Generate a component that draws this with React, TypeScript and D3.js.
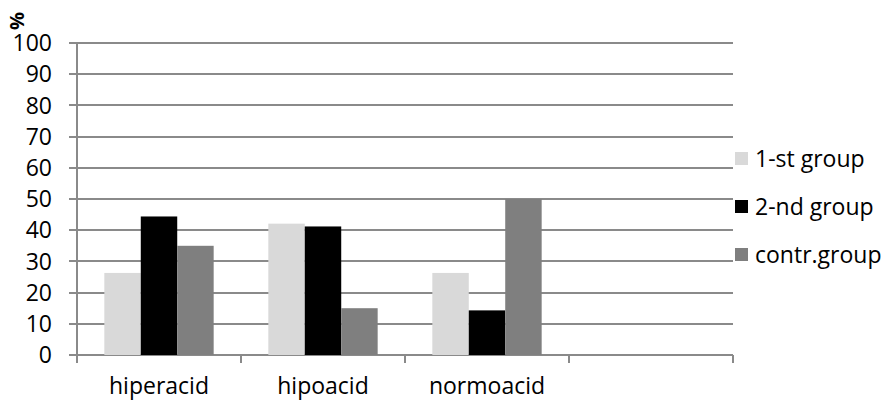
import React from "react";
import * as d3 from "d3";

// Acidity type of gastric secretion, share of patients per group (%)
const categories = ["hiperacid", "hipoacid", "normoacid", ""];
const seriesNames = ["1-st group", "2-nd group", "contr.group"];
const firstGroup = [26.3, 42.1, 26.3];
const secondGroup = [44.4, 41.2, 14.3];
const controlGroup = [35, 15, 50];
const seriesColors = ["#d9d9d9", "#000000", "#7f7f7f"];
const yTicks = [0, 10, 20, 30, 40, 50, 60, 70, 80, 90, 100];

const W = 884;
const H = 402;
const left = 77;
const right = 733;
const top = 43;
const bottom = 355;
const font = "'Open Sans', 'Noto Sans', sans-serif";
const gridColor = "#8a8a8a";

export default function App() {
  const values = [firstGroup, secondGroup, controlGroup];
  const x = d3.scaleBand<string>().domain(categories).range([left, right]).paddingInner(0).paddingOuter(0);
  const xs = d3
    .scaleBand<number>()
    .domain([0, 1, 2])
    .range([0, x.bandwidth()])
    .paddingInner(0)
    .paddingOuter(0.75);
  const y = d3.scaleLinear().domain([0, 100]).range([bottom, top]);

  const boundaries = d3.range(categories.length + 1).map((i) => left + i * x.step());

  return (
    <svg
      width={W}
      height={H}
      style={{ position: "absolute", left: 0, top: 0, background: "#fff" }}
      fontFamily={font}
    >
      {/* gridlines */}
      {yTicks.map((t) => (
        <line
          key={"g" + t}
          x1={left - 8}
          x2={right}
          y1={Math.round(y(t))}
          y2={Math.round(y(t))}
          stroke={gridColor}
          strokeWidth={2}
        />
      ))}
      {/* y axis */}
      <line x1={left} x2={left} y1={top} y2={bottom} stroke={gridColor} strokeWidth={2} />
      {/* y tick labels */}
      {yTicks.map((t) => (
        <text
          key={"t" + t}
          x={52}
          y={y(t)}
          dy="0.36em"
          textAnchor="end"
          fontSize={23}
          fill="#000"
        >
          {t}
        </text>
      ))}
      {/* bars */}
      {values.map((vals, si) =>
        vals.map((v, ci) => (
          <rect
            key={`b${si}-${ci}`}
            x={(x(categories[ci]) as number) + (xs(si) as number)}
            y={y(v)}
            width={xs.bandwidth()}
            height={bottom - y(v)}
            fill={seriesColors[si]}
          />
        ))
      )}
      {/* category ticks */}
      {boundaries.map((bx, i) => (
        <line
          key={"ct" + i}
          x1={bx}
          x2={bx}
          y1={bottom}
          y2={bottom + 8}
          stroke={gridColor}
          strokeWidth={2}
        />
      ))}
      {/* category labels */}
      {categories.map((c) => (
        <text
          key={"c" + c}
          x={(x(c) as number) + x.bandwidth() / 2}
          y={394}
          textAnchor="middle"
          fontSize={23}
          fill="#000"
        >
          {c}
        </text>
      ))}
      {/* axis title */}
      <text
        transform="translate(24,21) rotate(-90)"
        textAnchor="middle"
        fontSize={20}
        fontWeight="bold"
        fill="#000"
      >
        %
      </text>
      {/* legend */}
      {seriesNames.map((name, i) => {
        const cy = 159 + i * 48;
        return (
          <g key={"l" + i}>
            <rect x={735} y={cy - 7} width={13} height={13} fill={seriesColors[i]} />
            <text x={755} y={cy} dy="0.36em" fontSize={23} fill="#000">
              {name}
            </text>
          </g>
        );
      })}
    </svg>
  );
}
